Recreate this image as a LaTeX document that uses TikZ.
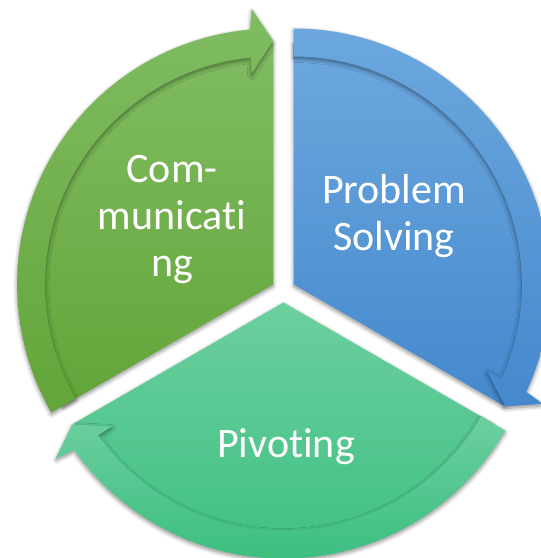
\documentclass[tikz,border=0pt]{standalone}
\usepackage{fontspec}
\setmainfont{Carlito}[Ligatures=NoCommon]
\usetikzlibrary{shadows.blur}

\def\outerR{256}
\def\innerR{228}
\def\pieR{242}
\def\gap{12}
\definecolor{comm top}{HTML}{80BC62}
\definecolor{comm bottom}{HTML}{63A539}
\definecolor{solve top}{HTML}{6CA8DE}
\definecolor{solve bottom}{HTML}{4588CD}
\definecolor{pivot top}{HTML}{6CCF9F}
\definecolor{pivot bottom}{HTML}{3CBF80}
\tikzset{
  soft/.style={blur shadow={shadow xshift=0pt, shadow yshift=-2pt,
      shadow blur radius=4pt, shadow blur steps=8, shadow opacity=45}},
  segtext/.style={text=white, font=\fontsize{42}{47}\selectfont,
      align=center, inner sep=0pt}
  }

\begin{document}
\begin{tikzpicture}[x=1pt, y=1pt]
  \useasboundingbox (-283.5,-267.5) rectangle (257.5,290.5);

  % pie piece with its curved arrow along the rim
  \foreach \ang/\col in {150/comm, 30/solve, 270/pivot} {
    \begin{scope}[shift={(\ang:\gap)}]
      \shade[soft, top color=\col\space top, bottom color=\col\space bottom]
        (0,0) -- ({\ang+60}:\pieR)
        arc[start angle=\ang+60, end angle=\ang-60, radius=\pieR] -- cycle;
      \shade[soft, top color=\col\space top, bottom color=\col\space bottom]
        ({\ang+60}:\outerR)
        arc[start angle=\ang+60, end angle=\ang-54.8, radius=\outerR]
        -- ({\ang-55.6}:276) -- ({\ang-60}:244) -- ({\ang-54.2}:212)
        -- ({\ang-54.4}:\innerR)
        arc[start angle=\ang-54.4, end angle=\ang+60, radius=\innerR] -- cycle;
    \end{scope}
  }

  \node[segtext] (comm) at (-111.5,71.5) {Com-\\municati\\ng};
  \node[segtext] (solve) at (110.5,74) {Problem\\Solving};
  \node[segtext] (pivot) at (2.5,-156.5) {Pivoting};
\end{tikzpicture}
\end{document}
